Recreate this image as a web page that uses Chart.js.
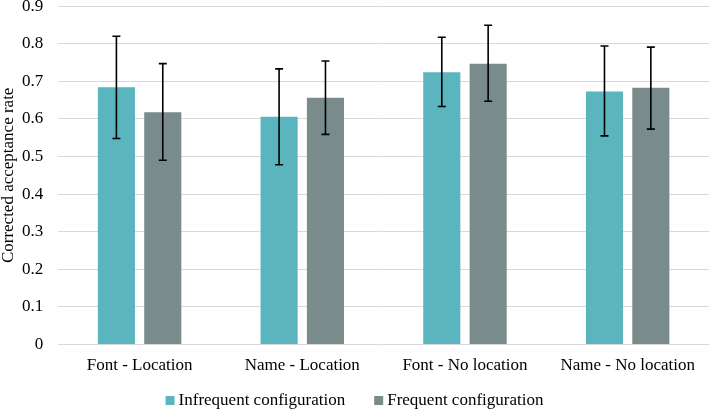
<!DOCTYPE html>
<html>
<head>
<meta charset="utf-8">
<script src="https://cdn.jsdelivr.net/npm/chart.js@4/dist/chart.umd.min.js"></script>
<style>
  html, body { margin: 0; padding: 0; background: #fff; }
  #wrap { width: 709px; height: 410px; position: relative; }
  .pre { font-family: 'Liberation Serif'; position: absolute; left: -1000px; }
</style>
</head>
<body>
<span class="pre">Font preload 0.123</span>
<div id="wrap"><canvas id="c"></canvas></div>
<script>
const categories = ["Font - Location", "Name - Location", "Font - No location", "Name - No location"];
const seriesNames = ["Infrequent configuration", "Frequent configuration"];
const infrequent = [0.684, 0.606, 0.724, 0.673];
const infrequentLow = [0.548, 0.478, 0.633, 0.555];
const infrequentHigh = [0.820, 0.733, 0.817, 0.794];
const frequent = [0.618, 0.656, 0.747, 0.683];
const frequentLow = [0.490, 0.559, 0.647, 0.573];
const frequentHigh = [0.747, 0.754, 0.849, 0.791];
const yTicks = ["0", "0.1", "0.2", "0.3", "0.4", "0.5", "0.6", "0.7", "0.8", "0.9"];
const colors = ['#5AB5BF', '#7A8B8C'];

const errorBars = [
  { low: infrequentLow, high: infrequentHigh },
  { low: frequentLow, high: frequentHigh }
];

const FONT = 'Liberation Serif';

const errorBarPlugin = {
  id: 'errorBars',
  afterDatasetsDraw(chart) {
    const ctx = chart.ctx;
    const yScale = chart.scales.y;
    ctx.save();
    ctx.strokeStyle = '#000';
    ctx.lineWidth = 1.6;
    chart.data.datasets.forEach((ds, di) => {
      const meta = chart.getDatasetMeta(di);
      meta.data.forEach((bar, i) => {
        const x = bar.x;
        const yl = yScale.getPixelForValue(errorBars[di].low[i]);
        const yh = yScale.getPixelForValue(errorBars[di].high[i]);
        const cap = 4;
        ctx.beginPath();
        ctx.moveTo(x, yl); ctx.lineTo(x, yh);
        ctx.moveTo(x - cap, yl); ctx.lineTo(x + cap, yl);
        ctx.moveTo(x - cap, yh); ctx.lineTo(x + cap, yh);
        ctx.stroke();
      });
    });
    ctx.restore();
  }
};

// Legend drawn below the x axis, centred, with the reference's spacing
const legendPlugin = {
  id: 'customLegend',
  afterDraw(chart) {
    const ctx = chart.ctx;
    const box = 9, textGap = 4, itemGap = 29;
    ctx.save();
    ctx.font = '17px "' + FONT + '"';
    ctx.textBaseline = 'middle';
    ctx.textAlign = 'left';
    const items = chart.data.datasets.map(ds => ({ text: ds.label, color: ds.backgroundColor, w: ctx.measureText(ds.label).width }));
    let total = 0;
    items.forEach((it, i) => { total += box + textGap + it.w + (i < items.length - 1 ? itemGap : 0); });
    let x = (chart.width - total) / 2;
    const cy = chart.height - 9.5;
    items.forEach(it => {
      ctx.fillStyle = it.color;
      ctx.fillRect(x, cy - box / 2, box, box);
      ctx.fillStyle = '#000';
      ctx.fillText(it.text, x + box + textGap, cy);
      x += box + textGap + it.w + itemGap;
    });
    ctx.restore();
  }
};

function build() {
  new Chart(document.getElementById('c'), {
    type: 'bar',
    data: {
      labels: categories,
      datasets: [
        { label: seriesNames[0], data: infrequent, backgroundColor: colors[0] },
        { label: seriesNames[1], data: frequent, backgroundColor: colors[1] }
      ]
    },
    options: {
      responsive: true,
      maintainAspectRatio: false,
      animation: false,
      devicePixelRatio: 1,
      categoryPercentage: 0.57,
      barPercentage: 0.8,
      layout: { padding: { top: 0, right: 0, bottom: 23, left: 0 } },
      plugins: {
        legend: { display: false },
        tooltip: { enabled: false }
      },
      scales: {
        x: {
          grid: { display: false, drawTicks: false },
          border: { display: false },
          ticks: { color: '#000', font: { family: FONT, size: 17 }, padding: 11, maxRotation: 0, autoSkip: false }
        },
        y: {
          min: 0, max: 0.9,
          border: { display: false },
          grid: { color: '#d9d9d9', lineWidth: 1, drawTicks: true, tickLength: 14, tickColor: 'rgba(0,0,0,0)' },
          ticks: {
            stepSize: 0.1,
            color: '#000',
            font: { family: FONT, size: 17, lineHeight: 0.6 },
            padding: 1,
            callback: (v, i) => yTicks[i]
          },
          title: {
            display: true,
            text: 'Corrected acceptance rate',
            color: '#000',
            font: { family: FONT, size: 17, lineHeight: 1.0 },
            padding: { top: 0, bottom: 4 }
          }
        }
      }
    },
    plugins: [errorBarPlugin, legendPlugin]
  });
}

if (document.fonts && document.fonts.load) {
  document.fonts.load('17px "' + FONT + '"').then(build, build);
} else {
  build();
}
</script>
</body>
</html>
